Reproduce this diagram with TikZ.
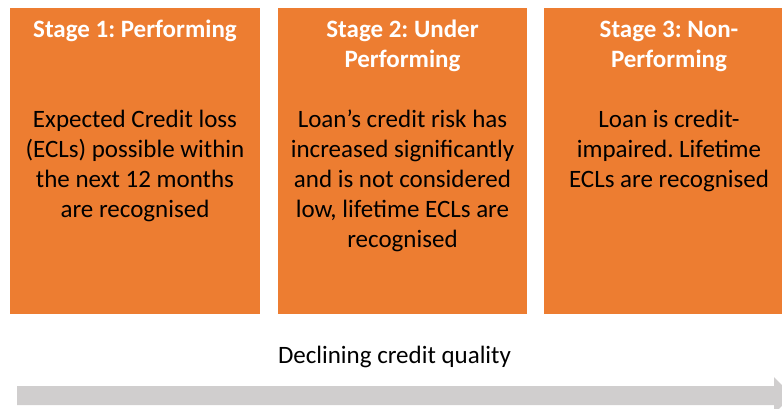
\documentclass[tikz,border=0pt]{standalone}
\usepackage{fontspec}
\setmainfont{Carlito}
\frenchspacing
\definecolor{boxorange}{HTML}{ED7D31}
\definecolor{bargrey}{HTML}{D0CECE}
\begin{document}
\begin{tikzpicture}[x=1bp,y=-1bp,
  stagebox/.style={fill=boxorange,draw=none},
  titletext/.style={text=white,font=\fontsize{25bp}{30bp}\selectfont\bfseries,align=center,anchor=base,inner sep=0pt},
  bodytext/.style={text=black,font=\fontsize{25bp}{30bp}\selectfont,align=center,anchor=base,inner sep=0pt},
  axistext/.style={text=black,font=\fontsize{25bp}{30bp}\selectfont,anchor=base,inner sep=0pt}]
\useasboundingbox (0,0) rectangle (782,408);
\begin{scope}
\clip (0,0) rectangle (782,408);
\fill[stagebox] (10,8) rectangle (260,314);
\fill[stagebox] (278,8) rectangle (527,314);
\fill[stagebox] (544,8) rectangle (794,314);
\fill[bargrey] (17,386) -- (774,386) -- (774,377) -- (792,395.5) -- (774,414) -- (774,405) -- (17,405) -- cycle;
\end{scope}
% base anchor = baseline of last line
\node[titletext] (t1) at (135,37) {Stage 1: Performing};
\node[titletext] (t2) at (402.5,67) {Stage 2: Under\\Performing};
\node[titletext] (t3) at (669,67) {Stage 3: Non-\\Performing};
\node[bodytext] (d1) at (135,217) {Expected Credit loss\\(ECLs) possible within\\the next 12 months\\are recognised};
\node[bodytext] (d2) at (402.5,247) {Loan’s credit risk has\\increased significantly\\and is not considered\\low, lifetime ECLs are\\recognised};
\node[bodytext] (d3) at (669,187) {Loan is credit-\\impaired. Lifetime\\ECLs are recognised};
\node[axistext] (ax) at (394.5,363) {Declining credit quality};
\end{tikzpicture}
\end{document}
